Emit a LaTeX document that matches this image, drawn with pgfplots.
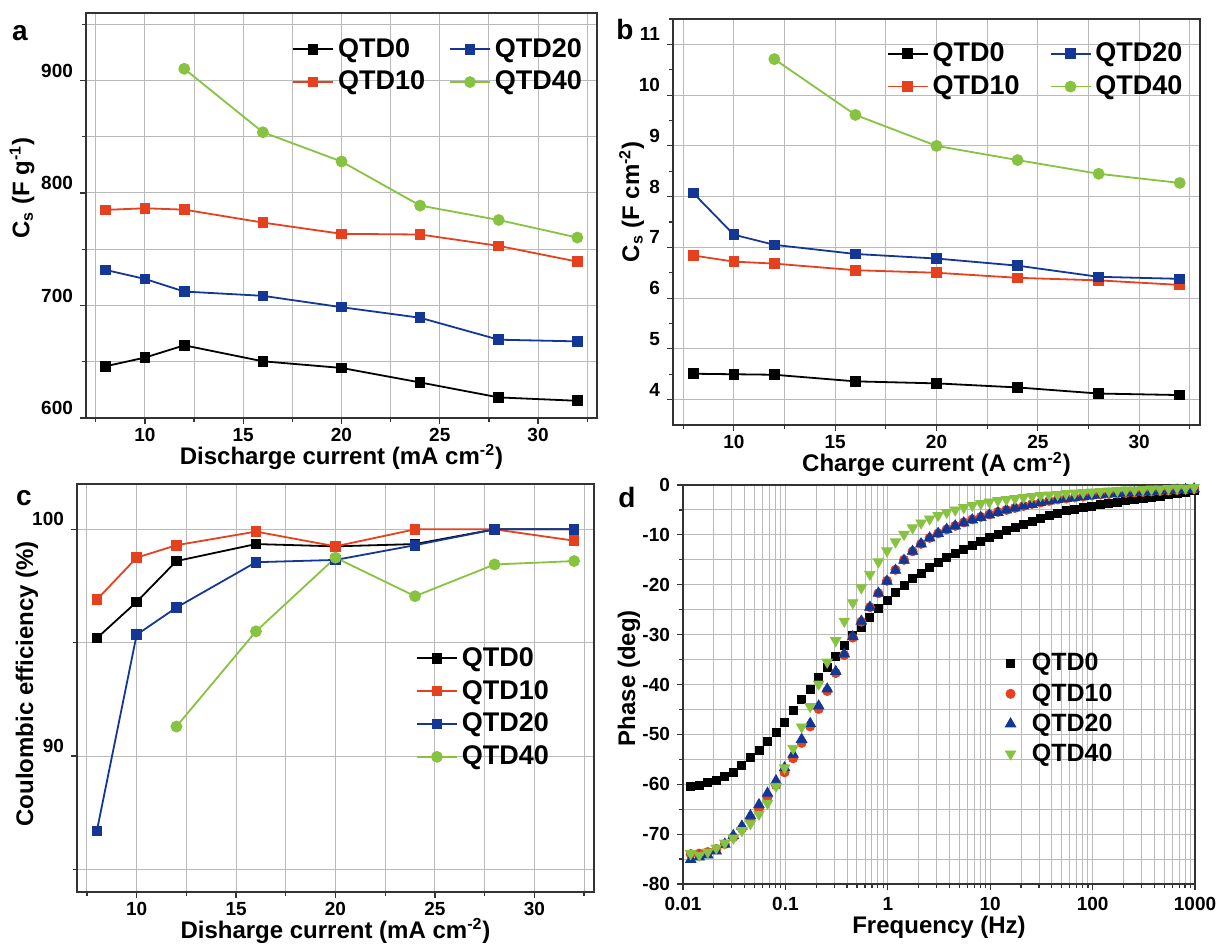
\documentclass[border=0pt]{standalone}
\usepackage{fontspec}
\setmainfont{Liberation Sans}
\usepackage{pgfplots}
\usepackage{pgfplotstable}
\pgfplotsset{compat=1.18}

\definecolor{cRed}{RGB}{230,65,30}
\definecolor{cBlue}{RGB}{20,55,150}
\definecolor{cGreen}{RGB}{135,195,65}

% panel a: specific capacitance (F/g)
\pgfplotstableread{
x  q0     q10    q20
8  646.0  785.0  731.6
10 653.7  786.4  723.6
12 664.6  785.2  712.4
16 650.4  773.7  708.6
20 644.5  763.7  698.5
24 631.6  763.1  689.1
28 618.3  753.0  669.6
32 615.3  739.0  668.1
}\dataA

% panel b: areal capacitance (F/cm2)
\pgfplotstableread{
x  q0    q10   q20
8  4.51  6.84  8.07
10 4.50  6.72  7.25
12 4.49  6.68  7.05
16 4.36  6.55  6.87
20 4.32  6.50  6.78
24 4.24  6.40  6.64
28 4.12  6.35  6.42
32 4.09  6.26  6.38
}\dataB

% panel c: coulombic efficiency
\pgfplotstableread{
x  q0     q10    q20
8  95.2   96.9   86.7
10 96.8   98.75  95.35
12 98.6   99.3   96.55
16 99.35  99.9   98.55
20 99.25  99.25  98.65
24 99.35  100.0  99.3
28 100.0  100.0  100.0
32 100.0  99.5   100.0
}\dataC

% panel d: bode phase
\pgfplotstableread{
f       q0     q10    q20    q40
0.01189 -60.5  -74.0  -75.1  -73.9
0.01440 -60.3  -73.9  -74.6  -74.2
0.01745 -59.7  -73.6  -74.2  -73.6
0.02113 -59.2  -73.0  -73.4  -72.8
0.02560 -58.5  -72.0  -72.0  -71.8
0.03101 -57.6  -70.6  -70.3  -70.8
0.03758 -56.3  -68.9  -68.4  -69.3
0.04552 -54.7  -67.0  -66.3  -67.9
0.05516 -53.2  -64.9  -64.1  -66.0
0.06683 -51.5  -62.6  -61.8  -63.8
0.08097 -49.6  -60.2  -59.3  -60.4
0.09810 -47.6  -57.6  -56.7  -56.7
0.1189  -45.2  -54.8  -54.0  -52.8
0.1440  -43.0  -51.7  -51.0  -48.5
0.1745  -41.0  -48.4  -47.8  -44.4
0.2113  -38.6  -44.9  -44.3  -39.9
0.2560  -36.6  -41.3  -40.9  -35.5
0.3101  -34.3  -37.7  -37.4  -31.2
0.3758  -32.1  -34.1  -33.9  -27.3
0.4552  -30.2  -30.6  -30.4  -23.6
0.5516  -28.5  -27.4  -27.3  -20.6
0.6683  -26.6  -24.5  -24.5  -17.9
0.8097  -24.8  -21.7  -21.7  -15.4
0.9810  -23.1  -19.2  -19.3  -13.2
1.189   -21.6  -17.0  -17.1  -11.4
1.440   -20.1  -15.0  -15.1  -9.9
1.745   -18.8  -13.3  -13.3  -8.6
2.113   -17.7  -11.8  -11.8  -7.6
2.560   -16.6  -10.6  -10.6  -6.8
3.101   -15.6  -9.7   -9.7   -6.1
3.758   -14.6  -8.9   -8.9   -5.5
4.552   -13.7  -8.2   -8.2   -5.0
5.516   -12.9  -7.5   -7.6   -4.5
6.683   -12.1  -6.9   -7.0   -4.1
8.097   -11.3  -6.4   -6.5   -3.7
9.810   -10.6  -5.9   -6.0   -3.4
11.89   -9.9   -5.4   -5.5   -3.1
14.40   -9.2   -5.0   -5.0   -2.9
17.45   -8.5   -4.6   -4.6   -2.7
21.13   -7.9   -4.2   -4.2   -2.5
25.60   -7.3   -3.8   -3.9   -2.3
31.01   -6.7   -3.5   -3.5   -2.1
37.58   -6.1   -3.2   -3.2   -2.0
45.52   -5.6   -2.9   -2.9   -1.9
55.16   -5.1   -2.7   -2.7   -1.7
66.83   -4.8   -2.5   -2.5   -1.6
80.97   -4.5   -2.3   -2.3   -1.5
98.10   -4.2   -2.1   -2.1   -1.4
118.9   -3.9   -1.9   -2.0   -1.3
144.0   -3.6   -1.8   -1.8   -1.2
174.5   -3.4   -1.7   -1.7   -1.1
211.3   -3.1   -1.6   -1.6   -1.0
256.0   -2.9   -1.5   -1.5   -1.0
310.1   -2.6   -1.4   -1.4   -0.9
375.8   -2.4   -1.3   -1.3   -0.8
455.2   -2.2   -1.2   -1.2   -0.8
551.6   -1.9   -1.1   -1.1   -0.7
668.3   -1.7   -1.0   -1.0   -0.6
809.7   -1.4   -0.9   -0.9   -0.6
981.0   -1.1   -0.8   -0.8   -0.5
}\dataD

\pgfplotsset{
  panel/.style={
    scale only axis, anchor=south west,
    grid=both,
    major grid style={black!27, line width=0.5pt},
    minor grid style={black!27, line width=0.5pt},
    axis line style={black!80, line width=0.8pt},
    tick align=outside, xtick pos=left, ytick pos=left,
    major tick length=3pt, minor tick length=2pt,
    tick style={black!80, line width=0.6pt},
    /pgf/number format/assume math mode=true,
    tick label style={font=\fontsize{9.5}{10}\selectfont\bfseries},
    label style={font=\fontsize{12}{14}\selectfont\bfseries},
    legend style={draw=none, fill=none, inner xsep=0pt, inner ysep=0pt,
      font=\fontsize{13.5}{15}\selectfont\bfseries, row sep=1.5pt},
    legend cell align=left,
    legend image code/.code={\draw[mark repeat=2,mark phase=2,##1]
      plot coordinates {(0pt,0pt) (10pt,0pt) (20pt,0pt)};},
  },
  cur/.style={
    xmin=7, xmax=33,
    xtick={10,15,20,25,30},
    minor xtick={7.5,12.5,17.5,22.5,27.5,32.5},
    yticklabel style={yshift=5pt},
    xticklabel style={yshift=1.5pt},
  },
  markonly/.style={
    legend image code/.code={\draw[##1] plot coordinates {(8.5pt,0pt)};
      \path (0pt,0pt) (17pt,0pt);},
  },
  sq/.style={line width=0.9pt, mark=square*, mark size=2.2pt},
  ci/.style={line width=0.9pt, mark=*, mark size=2.5pt},
}

\begin{document}
\begin{tikzpicture}
\useasboundingbox (0,0) rectangle (609.5pt,471.5pt);

% ---------- a ----------
\begin{axis}[panel, cur,
  at={(43pt,262.5pt)}, width=255.5pt, height=202.5pt,
  ymin=600, ymax=960,
  ytick={600,700,800,900}, minor ytick={650,750,850,950},
  xlabel={Discharge current (mA cm\textsuperscript{-2})},
  ylabel={C\textsubscript{s} (F g\textsuperscript{-1})},
  xlabel style={at={(axis description cs:0.5,-0.0963)}, anchor=center},
  ylabel style={at={(axis description cs:-0.1252,0.568)}, anchor=center},
  legend columns=2, transpose legend,
  legend style={at={(axis description cs:0.691,0.870)}, anchor=center,
    /tikz/every even column/.append style={column sep=10pt}},
]
\addplot[black, sq] table[x=x, y=q0] {\dataA};
\addplot[cRed, sq] table[x=x, y=q10] {\dataA};
\addplot[cBlue, sq] table[x=x, y=q20] {\dataA};
\addplot[cGreen, ci] coordinates {
  (12,910.4) (16,854.0) (20,828.0) (24,788.8) (28,776.0) (32,760.4)};
\legend{QTD0, QTD10, QTD20, QTD40}
\end{axis}

% ---------- b ----------
\begin{axis}[panel, cur,
  at={(336.5pt,259pt)}, width=263.5pt, height=203pt,
  ymin=3.5, ymax=11.5,
  ytick={4,5,...,11}, minor ytick={4.5,5.5,...,11.5},
  yminorgrids=false,
  xlabel={Charge current (A cm\textsuperscript{-2})},
  ylabel={C\textsubscript{s} (F cm\textsuperscript{-2})},
  xlabel style={at={(axis description cs:0.5,-0.0975)}, anchor=center},
  ylabel style={at={(axis description cs:-0.0786,0.55)}, anchor=center},
  legend columns=2, transpose legend,
  legend style={at={(axis description cs:0.690,0.874)}, anchor=center,
    /tikz/every even column/.append style={column sep=13pt}},
]
\addplot[black, sq] table[x=x, y=q0] {\dataB};
\addplot[cRed, sq] table[x=x, y=q10] {\dataB};
\addplot[cBlue, sq] table[x=x, y=q20] {\dataB};
\addplot[cGreen, ci] coordinates {
  (12,10.71) (16,9.61) (20,9.00) (24,8.72) (28,8.45) (32,8.27)};
\legend{QTD0, QTD10, QTD20, QTD40}
\end{axis}

% ---------- c ----------
\begin{axis}[panel, cur,
  at={(38.5pt,25.5pt)}, width=258.5pt, height=204pt,
  ymin=84, ymax=102,
  ytick={90,100}, minor ytick={85,95},
  xlabel={Disharge current (mA cm\textsuperscript{-2})},
  ylabel={Coulombic efficiency (\%)},
  xlabel style={at={(axis description cs:0.5,-0.096)}, anchor=center},
  ylabel style={at={(axis description cs:-0.0967,0.51)}, anchor=center},
  legend style={at={(axis description cs:0.655,0.452)}, anchor=west},
]
\addplot[black, sq] table[x=x, y=q0] {\dataC};
\addplot[cRed, sq] table[x=x, y=q10] {\dataC};
\addplot[cBlue, sq] table[x=x, y=q20] {\dataC};
\addplot[cGreen, ci] coordinates {
  (12,91.3) (16,95.5) (20,98.75) (24,97.05) (28,98.45) (32,98.6)};
\legend{QTD0, QTD10, QTD20, QTD40}
\end{axis}

% ---------- d ----------
\begin{axis}[panel, markonly,
  at={(341.5pt,29.5pt)}, width=256pt, height=199.5pt,
  xmode=log, xmin=0.01, xmax=1000,
  xtick={0.01,0.1,1,10,100,1000},
  xticklabels={0.01,0.1,1,10,100,1000},
  ymin=-80, ymax=0,
  ytick={-80,-70,...,0}, minor ytick={-75,-65,...,-5},
  xlabel={Frequency (Hz)},
  ylabel={Phase (deg)},
  xlabel style={at={(axis description cs:0.5,-0.1078)}, anchor=center},
  ylabel style={at={(axis description cs:-0.1055,0.516)}, anchor=center},
  legend style={at={(axis description cs:0.605,0.439)}, anchor=west,
    font=\fontsize{12.5}{14}\selectfont\bfseries, row sep=0.8pt},
]
\addplot[only marks, black, mark=square*, mark size=2pt] table[x=f, y=q0] {\dataD};
\addplot[only marks, cRed, mark=*, mark size=2.3pt] table[x=f, y=q10] {\dataD};
\addplot[only marks, cBlue, mark=triangle*, mark size=3pt] table[x=f, y=q20] {\dataD};
\addplot[only marks, cGreen, mark=triangle*, mark size=3pt,
  mark options={rotate=180}] table[x=f, y=q40] {\dataD};
\legend{QTD0, QTD10, QTD20, QTD40}
\end{axis}

% panel letters
\node[font=\fontsize{14}{16}\selectfont\bfseries] at (10pt,455pt) {a};
\node[font=\fontsize{14}{16}\selectfont\bfseries] at (312.5pt,456.5pt) {b};
\node[font=\fontsize{14}{16}\selectfont\bfseries] at (12pt,222.5pt) {c};
\node[font=\fontsize{14}{16}\selectfont\bfseries] at (313.5pt,223pt) {d};
\end{tikzpicture}
\end{document}
